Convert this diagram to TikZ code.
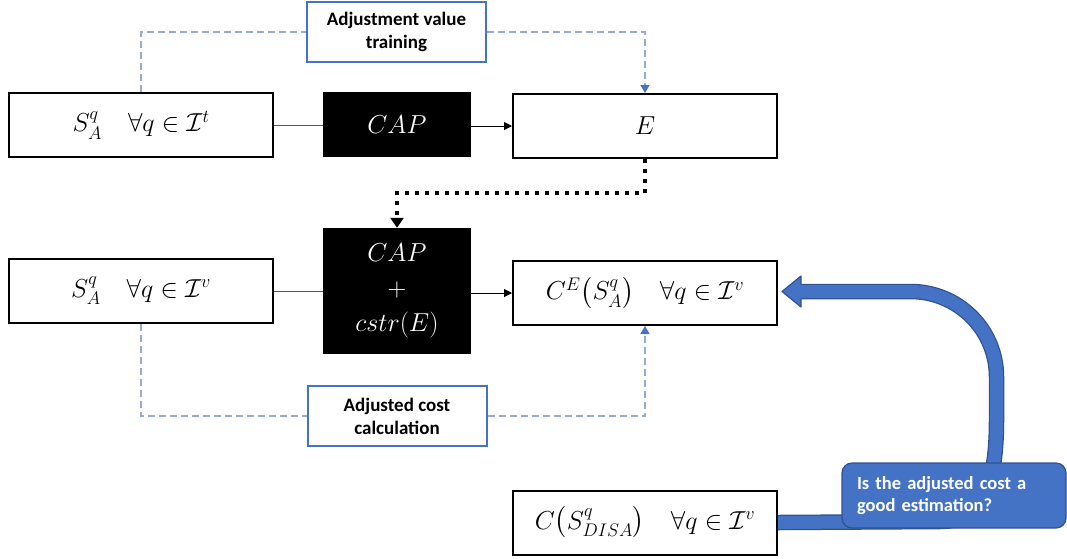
\RequirePackage{fix-cm}
\documentclass[tikz,border=0pt]{standalone}
\usepackage{fontspec}
\usepackage{amsmath,amssymb}
\usetikzlibrary{arrows.meta}
\newfontfamily\calibri{Carlito}
\definecolor{officeblue}{RGB}{68,114,196}
\definecolor{darkblue}{RGB}{47,82,143}
\definecolor{linkblue}{RGB}{150,170,210}
\definecolor{wiregray}{RGB}{89,89,89}
\tikzset{
  mathbox/.style={draw=black, line width=2pt, fill=white, minimum width=264pt,
    minimum height=64pt, inner sep=0pt, font=\fontsize{26}{30}\selectfont},
  capbox/.style={fill=black, text=white, minimum width=148pt, inner sep=0pt,
    align=center, font=\fontsize{26}{35}\selectfont},
  labelbox/.style={draw=officeblue, line width=2pt, fill=white, minimum width=179pt,
    minimum height=60pt, inner sep=0pt, align=center,
    font=\calibri\bfseries\fontsize{19}{23}\selectfont},
  callout/.style={draw=darkblue, line width=1.2pt, fill=officeblue, text=white,
    rounded corners=10pt, minimum width=224pt, minimum height=65pt,
    text width=194pt, inner xsep=15pt, align=left,
    font=\calibri\bfseries\fontsize{18.5}{22}\selectfont},
  wire/.style={wiregray, line width=1pt},
  dashlink/.style={linkblue, line width=1.3pt, dash pattern=on 7pt off 4pt},
  bluetip/.style={-{Triangle[length=8pt,width=9pt,color=officeblue]}},
}
\begin{document}
\begin{tikzpicture}[x=1pt, y=-1pt]
  \useasboundingbox (0,0) rectangle (1067,558);

  % --- training row ---
  \node[mathbox] (strain) at (141,125) {$S_A^q\quad \forall q \in \mathcal{I}^t$};
  \node[capbox, minimum height=65pt] (cap) at (397,124.5) {$CAP$};
  \node[mathbox] (est) at (645,126) {$E$};
  \node[labelbox] (train) at (396.5,32) {Adjustment value\\training};

  \draw[wire] (strain.east) -- (cap.west |- strain.east);
  \draw[wire, black, -{Triangle[length=8pt,width=8pt]}] (cap.east |- est.west) -- (est.west);
  \draw[dashlink] (strain.north) |- (train.west);
  \draw[dashlink, bluetip] (train.east) -| (est.north);

  % --- validation row ---
  \node[mathbox] (sval) at (141,291) {$S_A^q\quad \forall q \in \mathcal{I}^v$};
  \node[capbox, minimum height=126pt] (capc) at (397,291) {$CAP$\\$+$\\$cstr(E)$};
  \node[mathbox] (cost) at (645,293) {$C^E\big(S_A^q\big)\quad \forall q \in \mathcal{I}^v$};
  \node[labelbox] (calc) at (397,416) {Adjusted cost\\calculation};

  \draw[wire] (sval.east) -- (capc.west |- sval.east);
  \draw[wire, black, -{Triangle[length=8pt,width=8pt]}] (capc.east |- cost.west) -- (cost.west);
  \draw[dashlink] (sval.south) |- (calc.west);
  \draw[dashlink, bluetip] (calc.east) -| (cost.south);

  % E feeds the constraint
  \coordinate (bend) at (645,193);
  \draw[line width=4pt, dash pattern=on 4pt off 6pt, -{Triangle[length=10pt,width=13pt]}]
    (est.south) -- (bend) -| (capc.north);

  % --- comparison with DISA ---
  \node[mathbox] (disa) at (645,522.5) {$C\big(S_{DISA}^q\big)\quad \forall q \in \mathcal{I}^v$};

  \coordinate (riser) at (996.5,377);
  \coordinate (headback) at (801,291.5);
  \foreach \w/\c in {15.5pt/darkblue, 13pt/officeblue}
    \draw[line width=\w, \c] (disa.east) -- (940,521.5)
      .. controls (985,521.5) and (996.5,480) .. (996.5,420) -- (riser)
      .. controls (996.5,329.5) and (958,291.5) .. (910.5,291.5) -- (headback);
  \fill[officeblue] (782,291.5) -- (801,276) -- (801,307) -- cycle;
  \draw[darkblue, line width=1.2pt, line join=round]
    (801,284.5) -- (801,276) -- (782,291.5) -- (801,307) -- (801,298.5);

  \node[callout] (quest) at (954,495.5) {Is the adjusted cost a\\good estimation?};
\end{tikzpicture}
\end{document}
